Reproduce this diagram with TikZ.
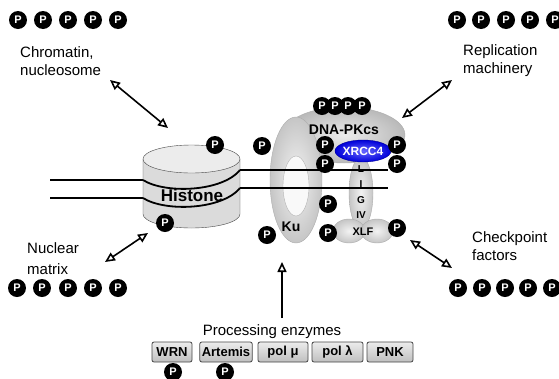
\documentclass[tikz,border=0pt]{standalone}
\usepackage{fontspec}
\setmainfont{Liberation Sans}
\usetikzlibrary{arrows.meta,positioning,shapes.geometric}

\begin{document}
\begin{tikzpicture}[x=1pt,y=-1pt,font=\fontsize{15}{18}\selectfont]
  \tikzset{
    phos/.style={circle,fill=black,text=white,inner sep=0pt,minimum size=18pt,
      font=\fontsize{11}{11}\selectfont\bfseries},
    lbl/.style={anchor=west,align=left,inner sep=0pt},
    dbl/.style={{Triangle[open,length=10pt,width=9pt]}-{Triangle[open,length=10pt,width=9pt]},line width=1.6pt},
    sgl/.style={-{Triangle[open,length=10pt,width=9pt]},line width=1.6pt},
    dna/.style={line width=1.8pt},
    prot/.style={ellipse,inner sep=0pt,draw=gray!65,inner color=gray!10,outer color=gray!45},
    enz/.style={draw=gray!55!black,line width=0.8pt,rounded corners=2pt,top color=gray!15,bottom color=gray!50,
      minimum height=20pt,inner sep=2pt,font=\fontsize{13}{13}\selectfont\bfseries}
  }
  \clip (0,0) rectangle (559,378);

  % DNA going into the nucleosome
  \draw[dna] (50,180) -- (143,180);
  \draw[dna] (50,198) -- (143,198);

  % histone core as a cylinder
  \path[fill=gray!28,draw=gray!55!black] (143,159) -- (143,214)
    arc[start angle=180,end angle=0,x radius=48.5,y radius=14] -- (240,159);
  \node[ellipse,inner sep=0pt,draw=gray!55!black,fill=gray!15,minimum width=97pt,minimum height=28pt]
    (histop) at (191.5,159) {};
  \coordinate (hisbot) at (191.5,214);
  \draw[dna] (143,180) .. controls (165,194) and (222,192) .. (240,170);
  \draw[dna] (143,198) .. controls (165,212) and (222,210) .. (240,188);
  \node[font=\fontsize{17}{17}\selectfont\bfseries] (histone) at (192,195) {Histone};

  % repair complex at the break
  \node[prot,inner color=gray!15,outer color=gray!55,minimum width=122pt,minimum height=56pt] (dnapk) at (344,135) {};
  \node[prot,minimum width=52pt,minimum height=126pt] (ku) at (296,180) {};
  \node[ellipse,inner sep=0pt,draw=gray!60,fill=gray!5,minimum width=26pt,minimum height=60pt] (kuhole) at (296,186) {};
  \node[font=\fontsize{14}{14}\selectfont\bfseries] (kutxt) at (291,227) {Ku};
  \node[font=\fontsize{14}{14}\selectfont\bfseries] (dnapktxt) at (344,130) {DNA-PKcs};
  \node[prot,minimum width=24pt,minimum height=72pt] (lig) at (361,193) {};

  % DNA ends held by Ku
  \draw[dna] (240,170) -- (388,170);
  \draw[dna] (240,188) -- (388,188);

  \node[prot,minimum width=32pt,minimum height=24pt] (xlfa) at (349,231) {};
  \node[prot,minimum width=32pt,minimum height=24pt] (xlfb) at (377,231) {};
  \node[font=\fontsize{11}{11}\selectfont\bfseries] (xlftxt) at (363,232) {XLF};
  \node[ellipse,inner sep=0pt,draw=blue!60!black,inner color=blue!60,outer color=blue!85!black,
    minimum width=56pt,minimum height=22pt] (xrcc) at (363,151) {};
  \node[text=white,font=\fontsize{12}{12}\selectfont\bfseries] (xrcctxt) at (363,151) {XRCC4};
  \foreach \n/\y/\t in {1/169/L,2/184/I,3/200/G,4/215/IV}
    \node[font=\fontsize{10}{10}\selectfont\bfseries,inner sep=0pt] (lig\n) at (361,\y) {\t};

  % phosphorylation sites
  \foreach \i/\x in {1/322,2/335,3/348,4/362}
    \node[phos] (ppk\i) at (\x,106) {P};
  \node[phos] (pxl1) at (325,145) {P};
  \node[phos] (pxl2) at (325,164) {P};
  \node[phos] (pxr1) at (397,145) {P};
  \node[phos] (pxr2) at (397,164) {P};
  \node[phos] (plig) at (328,204) {P};
  \node[phos] (pxlfl) at (328,233) {P};
  \node[phos] (pxlfr) at (397,228) {P};
  \node[phos] (pkua) at (262,146) {P};
  \node[phos] (pkub) at (267,235) {P};
  \node[phos] (phisa) at (215,145) {P};
  \node[phos] (phisb) at (165,223) {P};

  % partners around the complex
  \node[lbl] (chrom) at (20,61) {Chromatin,\\nucleosome};
  \node[lbl] (repl) at (463,61) {Replication\\machinery};
  \node[lbl,font=\fontsize{15}{21}\selectfont] (nucm) at (27,259) {Nuclear\\matrix};
  \node[lbl] (chkp) at (472,246) {Checkpoint\\factors};
  \foreach \i/\x in {1/18,2/43,3/68,4/93,5/118}
    \node[phos] (ptl\i) at (\x,20) {P};
  \foreach \i/\x in {1/457,2/481,3/506,4/530,5/555}
    \node[phos] (ptr\i) at (\x,20) {P};
  \foreach \i/\x in {1/17,2/42,3/68,4/93,5/118}
    \node[phos] (pbl\i) at (\x,288) {P};
  \foreach \i/\x in {1/458,2/482,3/505,4/528,5/552}
    \node[phos] (pbr\i) at (\x,288) {P};

  \draw[dbl] ([shift={(90,19)}]chrom.west) -- ([shift={(-23.5,-31)}]histop.center);
  \draw[dbl] ([shift={(-11,19)}]repl.west) -- ([shift={(58,-17)}]dnapk.center);
  \draw[dbl] ([shift={(78,3)}]nucm.west) -- ([shift={(-43.5,19)}]hisbot);
  \draw[dbl] ([shift={(33,9)}]xlfb.center) -- ([shift={(-20,22)}]chkp.west);

  % processing enzymes
  \node (proc) at (272,332) {Processing enzymes};
  \node[enz,minimum width=40pt] (wrn) at (172,352) {WRN};
  \node[enz,minimum width=48pt] (artemis) at (226,352) {Artemis};
  \node[enz,minimum width=50pt] (polmu) at (283,352) {pol μ};
  \node[enz,minimum width=51pt] (pollam) at (337.5,352) {pol λ};
  \node[enz,minimum width=46pt] (pnk) at (390,352) {PNK};
  \node[phos] (pwrn) at (173,372) {P};
  \node[phos] (partemis) at (225,372) {P};
  \draw[sgl] ([shift={(10,-14)}]proc.center) -- ([shift={(-14,82)}]ku.center);
\end{tikzpicture}
\end{document}
